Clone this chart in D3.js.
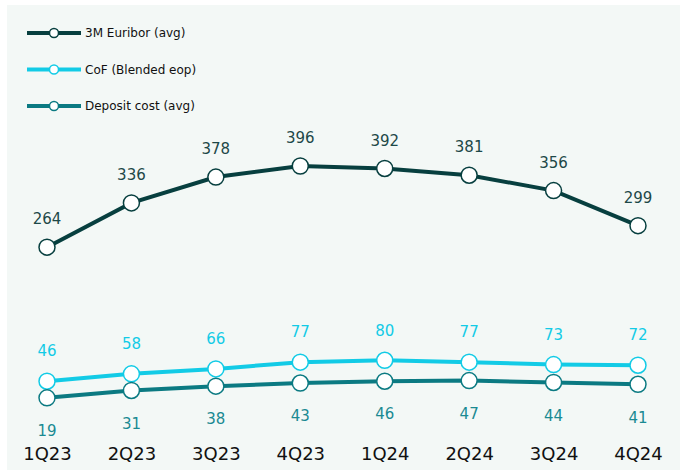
<!DOCTYPE html>
<html>
<head>
<meta charset="utf-8">
<script src="https://cdn.jsdelivr.net/npm/d3@7"></script>
<style>
  body { margin: 0; background: #fff; }
  text { font-family: "DejaVu Sans", sans-serif; }
</style>
</head>
<body>
<div id="chart"></div>
<script>
const quarters = ["1Q23", "2Q23", "3Q23", "4Q23", "1Q24", "2Q24", "3Q24", "4Q24"];
const euribor = [264, 336, 378, 396, 392, 381, 356, 299];
const cof = [46, 58, 66, 77, 80, 77, 73, 72];
const deposit = [19, 31, 38, 43, 46, 47, 44, 41];

const width = 685, height = 470;

const series = [
  { name: "3M Euribor (avg)", values: euribor, color: "#073f3f", label: "#1d4848", dy: -28 },
  { name: "CoF (Blended eop)", values: cof, color: "#12cbe6", label: "#12cbe6", dy: -30 },
  { name: "Deposit cost (avg)", values: deposit, color: "#0b7a82", label: "#1a8a92", dy: 33 }
];

const svg = d3.select("#chart").append("svg")
  .attr("width", width)
  .attr("height", height);

// panel background
svg.append("rect")
  .attr("x", 7).attr("y", 5)
  .attr("width", 673).attr("height", 465)
  .attr("fill", "#f3f8f6");

const x = d3.scalePoint()
  .domain(quarters)
  .range([47, 638]);

const y = d3.scaleLinear()
  .domain([0, 396])
  .range([409.5, 166]);

// x axis labels
svg.append("g")
  .attr("transform", "translate(0,454)")
  .call(d3.axisBottom(x).tickSize(0).tickPadding(0))
  .call(g => g.select(".domain").remove())
  .selectAll("text")
  .attr("dy", "0.35em")
  .attr("font-size", 18)
  .attr("fill", "#111")
  .style("font-family", "'DejaVu Sans', sans-serif");

const line = d3.line()
  .x((d, i) => x(quarters[i]))
  .y(d => y(d));

series.forEach(s => {
  const g = svg.append("g");
  g.append("path")
    .datum(s.values)
    .attr("fill", "none")
    .attr("stroke", s.color)
    .attr("stroke-width", 4)
    .attr("d", line);

  g.selectAll("circle")
    .data(s.values)
    .join("circle")
    .attr("cx", (d, i) => x(quarters[i]))
    .attr("cy", d => y(d))
    .attr("r", 8)
    .attr("fill", "#fff")
    .attr("stroke", s.color)
    .attr("stroke-width", 1.5);

  g.selectAll("text")
    .data(s.values)
    .join("text")
    .attr("x", (d, i) => x(quarters[i]))
    .attr("y", d => y(d) + s.dy)
    .attr("dy", "0.35em")
    .attr("text-anchor", "middle")
    .attr("font-size", 15)
    .attr("fill", s.label)
    .text(d => d);
});

// legend
const legend = svg.append("g");
series.forEach((s, i) => {
  const ly = 33 + i * 36.5;
  legend.append("line")
    .attr("x1", 27).attr("x2", 81)
    .attr("y1", ly).attr("y2", ly)
    .attr("stroke", s.color)
    .attr("stroke-width", 4);
  legend.append("circle")
    .attr("cx", 54).attr("cy", ly).attr("r", 4.5)
    .attr("fill", "#fff")
    .attr("stroke", s.color)
    .attr("stroke-width", 1.5);
  legend.append("text")
    .attr("x", 85).attr("y", ly)
    .attr("dy", "0.35em")
    .attr("font-size", 12)
    .attr("fill", "#111")
    .text(s.name);
});
</script>
</body>
</html>
